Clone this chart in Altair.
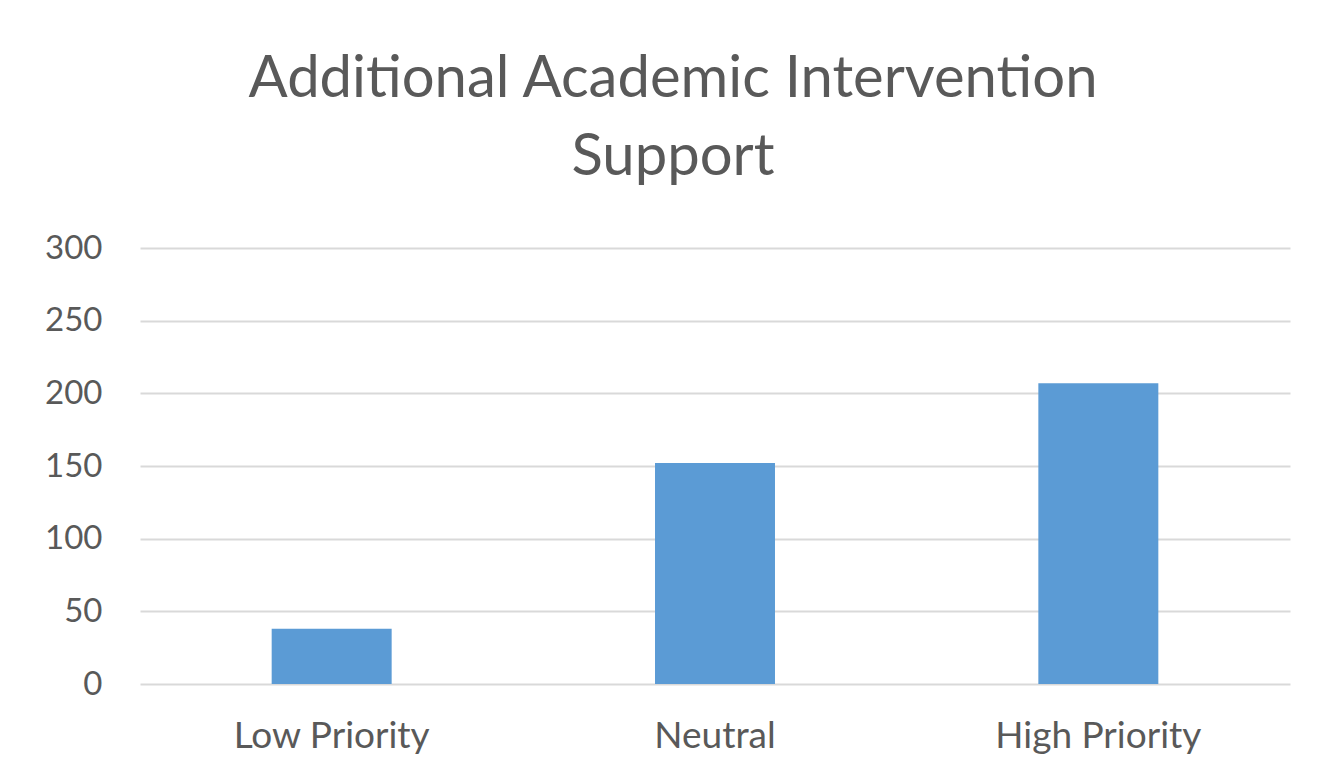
import altair as alt
import pandas as pd

categories = ["Low Priority", "Neutral", "High Priority"]
values = [38, 152, 207]
y_ticks = [0, 50, 100, 150, 200, 250, 300]

df = pd.DataFrame({"category": categories, "value": values})

FONT = "Lato"
TEXT = "#595959"

chart = alt.Chart(df).mark_bar(color="#5B9BD5").encode(
    x=alt.X("category:N", sort=categories, title=None,
            scale=alt.Scale(paddingInner=0.687, paddingOuter=0.3435),
            axis=alt.Axis(labelAngle=0, labelFont=FONT, labelFontSize=37,
                          labelColor=TEXT, labelPadding=34, labelLimit=500,
                          ticks=False, domain=False, grid=False)),
    y=alt.Y("value:Q", title=None,
            scale=alt.Scale(domain=[0, 300], nice=False),
            axis=alt.Axis(values=y_ticks, labelFont=FONT, labelFontSize=33,
                          labelColor=TEXT, labelPadding=38, ticks=False,
                          domain=False, grid=True, gridColor="#D9D9D9",
                          gridWidth=2)),
).properties(
    width=1150,
    height=436,
    autosize=alt.AutoSizeParams(type="none"),
    padding={"left": 132, "top": 240, "right": 28, "bottom": 80},
    title=alt.TitleParams(
        text=["Additional Academic Intervention", "Support"],
        font=FONT, fontSize=58, fontWeight="normal", color=TEXT,
        anchor="middle", dx=-42, dy=75, baseline="bottom", offset=62,
        lineHeight=78,
    ),
).configure_view(stroke=None)

chart.save("out.html", embed_options={"renderer": "svg", "actions": False})
